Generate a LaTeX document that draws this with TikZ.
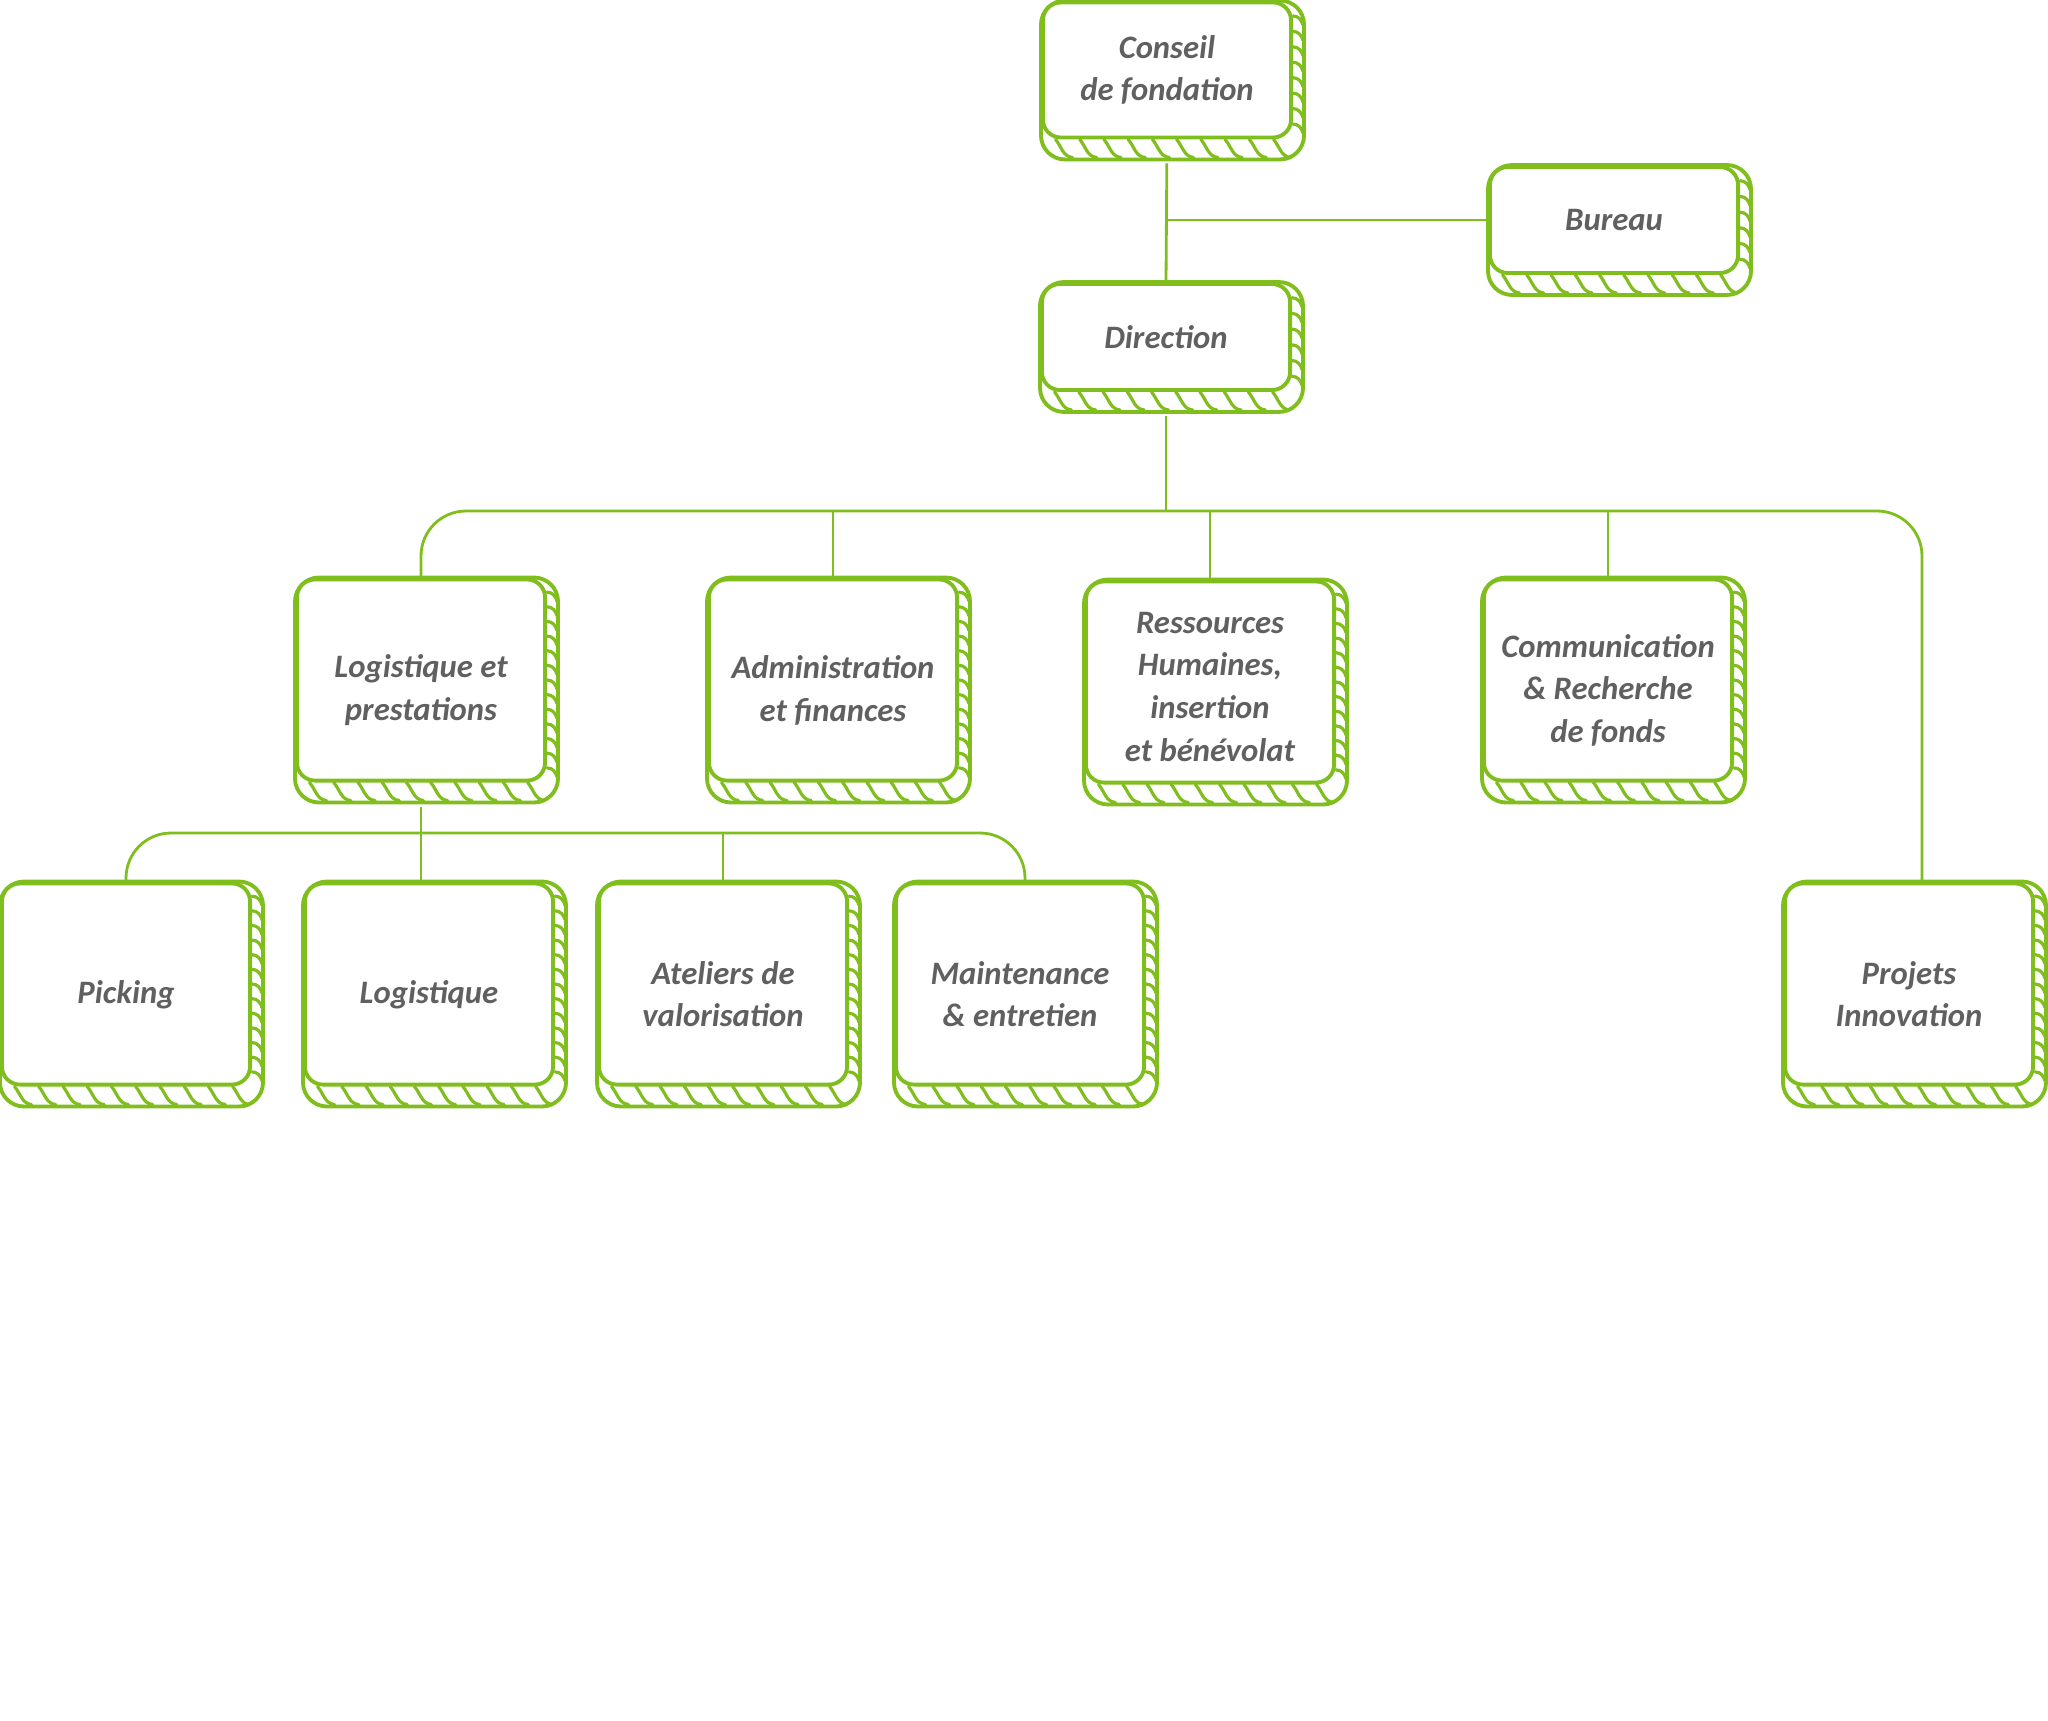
\documentclass[tikz,border=0pt]{standalone}
\usepackage{fontspec}
\setmainfont{Carlito}
\usetikzlibrary{calc,positioning,backgrounds}
\definecolor{leafgreen}{RGB}{128,190,30}
\definecolor{inkgray}{RGB}{96,96,96}

\begin{document}
\begin{tikzpicture}[x=0.01cm, y=-0.01cm,
  unit/.style={draw=leafgreen, line width=1.1pt, fill=white, rounded corners=0.18cm, minimum width=2.48cm, minimum height=2.01cm, align=center, text=inkgray, font=\fontsize{9.3}{12.1}\selectfont\bfseries\itshape, inner sep=2pt},
  lower/.style={text height=#1},
  lower/.default=24.5pt,
  link/.style={draw=leafgreen, line width=0.8pt},
  hatch/.style={draw=leafgreen, line width=0.9pt, line cap=round}]
\useasboundingbox (0,0) rectangle (2048,1721);
% top
\node[unit, minimum height=1.35cm] (conseil) at (1167,70) {Conseil\\de fondation};
\node[unit, minimum height=1.06cm] (bureau) at (1614,220) {Bureau};
\node[unit, minimum height=1.06cm] (direction) at (1166,337) {Direction};
% services
\node[unit, lower] (logprest) at (421,680) {Logistique et\\prestations};
\node[unit, lower] (admin) at (833,680) {Administration\\et finances};
\node[unit, lower=45pt] (rh) at (1210,682) {Ressources\\Humaines,\\insertion\\et bénévolat};
\node[unit, lower=36.6pt] (comm) at (1608,680) {Communication\\\& Recherche\\de fonds};
% sub-units
\node[unit, lower=12.4pt] (picking) at (126,984) {Picking};
\node[unit, lower=12.4pt] (logistique) at (429,984) {Logistique};
\node[unit, lower] (ateliers) at (723,984) {Ateliers de\\valorisation};
\node[unit, lower] (maintenance) at (1020,984) {Maintenance\\\& entretien};
\node[unit, lower] (projets) at (1909,984) {Projets\\Innovation};

% depth + hatching
\begin{scope}[on background layer]
\foreach \n/\k in {conseil/8, bureau/6, direction/6, logprest/13, admin/13, rh/13, comm/13, picking/13, logistique/13, ateliers/13, maintenance/13, projets/13} {
  \draw[hatch, line width=1.1pt, fill=white, rounded corners=0.24cm] (\n.north west) rectangle ($(\n.south east)+(11,20)$);
  \foreach \i in {1,...,10}
    \draw[hatch] ($(\n.south west)!{(\i-0.4)/10.4}!(\n.south east)$) to[out=-50,in=175] ++(17,18);
  \foreach \i in {1,...,\k}
    \draw[hatch] ($(\n.north east)!{\i/(\k+1)}!(\n.south east)$) to[out=0,in=105] ++(10,9);
}
\end{scope}

% links
\coordinate (bus) at (1166,511);
\coordinate (subbus) at (421,833);
\draw[link, shorten <=0.24cm] (conseil.south) -- (direction.north);
\draw[link] (conseil.south |- bureau.west) -- (bureau.west);
\draw[link, shorten <=0.24cm] (direction.south) -- (bus);
\draw[link, rounded corners=0.45cm] (logprest.north) |- (bus) -| ($(projets.north)+(13,0)$);
\foreach \n in {admin,rh,comm}
  \draw[link] (\n.north) -- (\n.north |- bus);
\draw[link, shorten <=0.24cm] (logprest.south) -- (logprest.south |- logistique.north);
\draw[link, rounded corners=0.45cm] (picking.north) |- (subbus) -| ($(maintenance.north)+(5,0)$);
\draw[link] (ateliers.north) -- (ateliers.north |- subbus);
\end{tikzpicture}
\end{document}
